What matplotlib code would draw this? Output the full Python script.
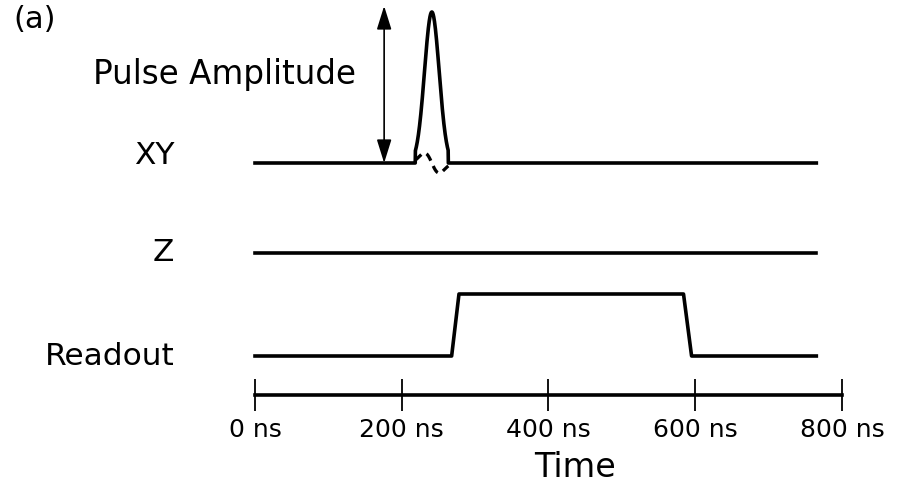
import numpy as np
import matplotlib
matplotlib.use("Agg")
import matplotlib.pyplot as plt

# time axis (ns)
tick_times = [0, 200, 400, 600, 800]
tick_labels = [f"{t} ns" for t in tick_times]
t_end = 765

# channel baselines and name positions (vertical units)
channels = ["XY", "Z", "Readout"]
levels = [232, 142, 39]
label_levels = [242.5, 145.5, 41.5]

# XY drive: truncated gaussian with DRAG component
xy_center = 241
xy_sigma = 10
xy_start, xy_stop = 218.5, 263.5
xy_amp = 151
drag_amp = 16.5

# readout pulse corners
ro_times = [0, 268, 278, 584, 595, t_end]
ro_values = [0, 0, 62, 62, 0, 0]

# amplitude arrow position
arrow_time = 176
arrow_top = 389


def main():
    fig = plt.figure(figsize=(8.99, 4.86), dpi=100)
    ax = fig.add_axes([0, 91 / 486, 1, 395 / 486])
    ax.set_xlim(-255 / 0.73375, 644 / 0.73375)
    ax.set_ylim(0, 395)

    lw = 2.6
    y_xy, y_z, y_ro = levels

    # XY line
    t = np.linspace(0, t_end, 3000)
    inside = (t >= xy_start) & (t <= xy_stop)
    g = np.where(inside, np.exp(-(t - xy_center) ** 2 / (2 * xy_sigma ** 2)), 0)
    ax.plot(t, y_xy + xy_amp * g, color="black", lw=lw, solid_joinstyle="round")
    td = np.linspace(xy_start, xy_stop, 300)
    d = -(td - xy_center) / xy_sigma * np.exp(-(td - xy_center) ** 2 / (2 * xy_sigma ** 2))
    ax.plot(td, y_xy + drag_amp * d, color="black", lw=lw * 0.9, ls=(0, (2.5, 1.8)))

    # Z line
    ax.plot([0, t_end], [y_z, y_z], color="black", lw=lw)

    # Readout line
    ax.plot(ro_times, y_ro + np.array(ro_values), color="black", lw=lw,
            solid_joinstyle="round")

    # channel names
    for name, y in zip(channels, label_levels):
        ax.text(-110, y, name, ha="right", va="center_baseline", fontsize=22.5)

    ax.annotate("", xy=(arrow_time, arrow_top), xytext=(arrow_time, y_xy),
                arrowprops=dict(arrowstyle="<|-|>,head_length=0.8,head_width=0.25",
                                mutation_scale=18, lw=1.2, color="black",
                                shrinkA=0, shrinkB=0))
    ax.text(-221, 324, "Pulse Amplitude", ha="left", va="center_baseline", fontsize=23.5)

    fig.text(13 / 899, 1 - 19 / 486, "(a)", ha="left", va="center", fontsize=22)

    # time axis
    for side in ["top", "left", "right"]:
        ax.spines[side].set_visible(False)
    ax.spines["bottom"].set_linewidth(2.6)
    ax.spines["bottom"].set_bounds(0, 800)
    ax.set_yticks([])
    ax.set_xticks(tick_times)
    ax.set_xticklabels(tick_labels)
    ax.tick_params(axis="x", direction="inout", length=23, width=1.3, labelsize=18, pad=5)
    ax.set_xlabel("Time", fontsize=24, labelpad=4)
    ax.xaxis.set_label_coords(575 / 899, -0.02, transform=None)
    ax.xaxis.label.set_transform(fig.transFigure)
    ax.xaxis.label.set_position((575 / 899, 19 / 486))
    ax.xaxis.label.set_verticalalignment("center")
    ax.patch.set_visible(False)

    fig.savefig("out.png", dpi=100)


if __name__ == "__main__":
    main()
